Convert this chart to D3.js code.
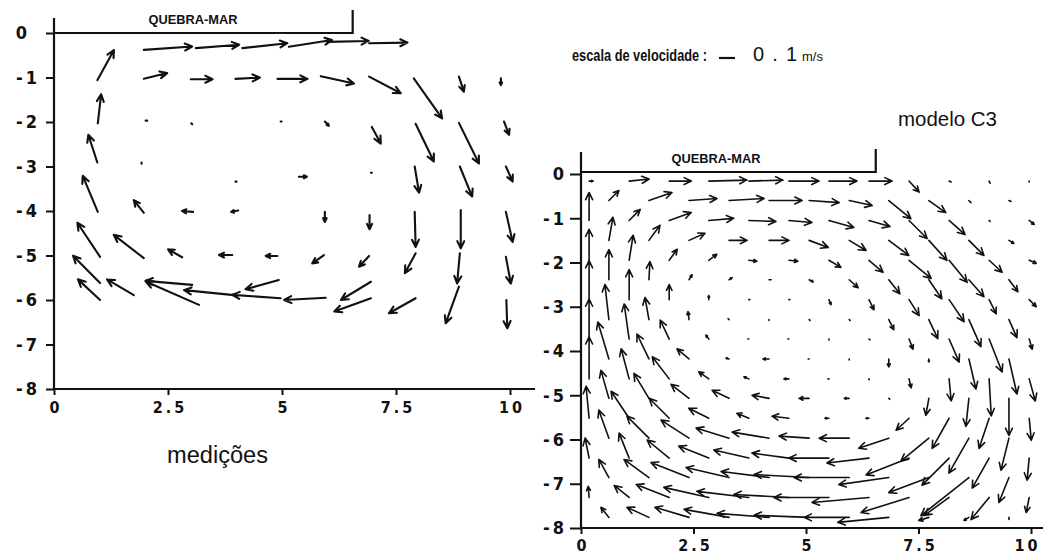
<!DOCTYPE html>
<html>
<head>
<meta charset="utf-8">
<script src="https://cdn.jsdelivr.net/npm/d3@7"></script>
<style>
  body { margin: 0; background: #fff; }
  svg { display: block; }
  .axis .tick text {
    font-family: "Liberation Sans Narrow", "DejaVu Sans Condensed", sans-serif;
    font-weight: bold; font-size: 18px; letter-spacing: 3px; fill: #111;
  }
  .x.axis .tick text { font-size: 16px; }
  .axis .tick line { stroke: #111; stroke-width: 2; }
  .axisLine { stroke: #111; stroke-width: 2.2; fill: none; }
  .arrow { fill: none; stroke: #111; stroke-linecap: round; stroke-linejoin: round; }
  .label { font-family: "Liberation Sans", Arial, sans-serif; fill: #111; }
</style>
</head>
<body>
<div id="chart"></div>
<script>
var width = 1043, height = 557

// eixos
var xTicks = [0, 2.5, 5, 7.5, 10]
var yTicks = [0, -1, -2, -3, -4, -5, -6, -7, -8]
var quebraMarFim = 6.55   // fim do quebra-mar (m)
var escalaVel = 0.1       // m/s

// medições: [x, y, u (m/s), v (m/s)]
var medicoes = [
  [0.95, -1.06, 0.104, 0.188], [0.96, -2.03, 0.021, 0.181], [0.95, -2.91, -0.056, 0.173],
  [0.96, -4.02, -0.094, 0.225], [1.01, -5.03, -0.142, 0.213], [1.01, -5.62, -0.169, 0.171],
  [1.01, -6.0, -0.138, 0.129],
  [1.97, -0.38, 0.302, 0.021], [1.97, -1.03, 0.146, 0.036], [2.01, -1.97, 0.01, 0],
  [1.92, -2.91, 0, -0.008], [1.97, -4.04, -0.063, 0.079], [1.97, -5.06, -0.188, 0.146],
  [1.75, -5.89, -0.167, 0.098],
  [3.11, -0.34, 0.271, 0.021], [3.0, -1.04, 0.136, 0], [3.01, -2.03, 0.006, -0.006],
  [3.05, -4.02, -0.069, 0.006], [2.81, -5.04, -0.088, 0.05], [3.03, -5.66, -0.292, 0.025],
  [3.18, -6.11, -0.333, 0.146],
  [4.13, -0.34, 0.281, 0.031], [3.98, -1.03, 0.152, 0.008], [3.98, -3.34, 0.006, 0],
  [4.04, -3.99, -0.044, -0.008], [3.91, -4.99, -0.083, 0], [3.95, -5.89, -0.313, 0.031],
  [5.15, -0.31, 0.27, 0.042], [4.9, -1.03, 0.188, 0], [4.97, -1.99, 0.006, 0],
  [5.37, -3.23, 0.05, 0], [4.9, -5.01, -0.073, 0], [4.93, -5.55, -0.208, -0.058],
  [4.97, -5.96, -0.302, 0.021],
  [5.99, -0.2, 0.26, 0.006], [5.85, -0.97, 0.208, -0.046], [5.94, -1.99, 0.025, -0.027],
  [5.94, -4.02, 0, -0.063], [5.92, -4.99, -0.073, -0.052], [5.96, -5.95, -0.26, -0.014],
  [6.91, -0.23, 0.24, 0.004], [6.91, -0.98, 0.198, -0.104], [6.97, -2.11, 0.056, -0.104],
  [6.95, -3.14, 0.006, 0], [6.92, -4.09, 0, -0.089], [6.91, -5.01, -0.063, -0.067],
  [6.95, -5.59, -0.188, -0.114], [6.95, -5.96, -0.229, -0.083],
  [7.89, -1.02, 0.177, -0.25], [7.93, -2.04, 0.114, -0.236], [7.91, -3.0, 0.027, -0.163],
  [7.91, -4.02, 0.006, -0.219], [7.93, -4.95, -0.067, -0.125], [7.93, -5.96, -0.167, -0.094],
  [8.88, -0.98, 0.031, -0.094], [8.88, -2.02, 0.125, -0.254], [8.9, -3.0, 0.077, -0.188],
  [8.92, -3.98, 0, -0.239], [8.9, -4.95, -0.017, -0.188], [8.88, -5.7, -0.083, -0.229],
  [9.8, -1.02, 0, -0.042], [9.87, -1.99, 0.031, -0.083], [9.91, -3.0, 0.042, -0.094],
  [9.91, -4.02, 0.042, -0.188], [9.91, -5.03, 0.031, -0.167], [9.92, -6.0, 0.006, -0.177]
]

// modelo C3: grelha desfasada, a linha r usa as colunas r%2, r%2+2, ...
var modeloX = [0.18, 0.62, 1.07, 1.51, 1.96, 2.4, 2.84, 3.29, 3.73, 4.18, 4.62, 5.07,
               5.51, 5.96, 6.4, 6.84, 7.29, 7.73, 8.18, 8.62, 9.07, 9.51, 9.96]
var modeloY = [-0.16, -0.6, -1.05, -1.5, -1.95, -2.39, -2.84, -3.29, -3.73,
               -4.18, -4.63, -5.07, -5.52, -5.97, -6.42, -6.86, -7.31, -7.76]
var modeloUV = [
  [[0.025,0],[0.125,0.013],[0.138,0],[0.238,0.006],[0.213,0.006],[0.188,0],[0.175,0],[0.144,0],[0.063,-0.069],[0.013,-0.006],[0.006,-0.013],[0,-0.006]],
  [[0.063,0.063],[0.144,0.05],[0.175,0.013],[0.219,0.013],[0.206,0],[0.188,-0.013],[0.144,-0.031],[0.138,-0.113],[0.106,-0.075],[0.013,-0.013],[0.013,-0.006]],
  [[0,0.175],[0.069,0.069],[0.138,0.05],[0.156,0.013],[0.169,-0.006],[0.144,-0.013],[0.156,-0.044],[0.131,-0.038],[0.113,-0.113],[0.1,-0.088],[0.006,-0.006],[0.031,-0.025]],
  [[0.025,0.144],[0.069,0.094],[0.1,0.044],[0.113,0],[0.125,0],[0.119,-0.044],[0.106,-0.063],[0.125,-0.094],[0.113,-0.125],[0.094,-0.094],[0.031,-0.019]],
  [[0,0.194],[0.025,0.156],[0.05,0.069],[0.05,0.038],[0.05,-0.006],[0.056,-0.006],[0.075,-0.044],[0.088,-0.075],[0.138,-0.113],[0.113,-0.138],[0.081,-0.075],[0.044,-0.019]],
  [[0,0.188],[0.006,0.113],[0.019,0.031],[0.019,0.013],[0.013,0],[0.025,-0.013],[0.056,-0.05],[0.069,-0.088],[0.081,-0.119],[0.094,-0.106],[0.056,-0.075]],
  [[0,0.244],[0,0.188],[0,0.094],[0,0.025],[0.006,0],[0.006,0],[0.013,-0.031],[0.031,-0.063],[0.063,-0.1],[0.094,-0.138],[0.044,-0.088],[0.044,-0.044]],
  [[-0.025,0.219],[-0.025,0.138],[-0.006,0.05],[-0.006,0.006],[0,-0.006],[0.006,-0.006],[0.006,-0.006],[0.031,-0.063],[0.056,-0.119],[0.075,-0.169],[0.05,-0.113]],
  [[0,0.25],[-0.031,0.219],[-0.056,0.119],[-0.019,0.025],[-0.006,0],[-0.006,0],[0,-0.006],[0.006,-0.006],[0.025,-0.063],[0.063,-0.144],[0.081,-0.206],[0.019,-0.063]],
  [[-0.069,0.231],[-0.075,0.156],[-0.075,0.063],[-0.019,0.006],[-0.038,0],[-0.006,0],[0,-0.006],[0,-0.05],[0,-0.019],[0.044,-0.188],[0.05,-0.219]],
  [[0,0.263],[-0.05,0.188],[-0.106,0.138],[-0.063,0.044],[-0.031,0.013],[-0.031,0],[-0.006,0],[0,-0.006],[0.013,-0.056],[0.013,-0.138],[0.013,-0.231],[0.038,-0.138]],
  [[-0.05,0.175],[-0.094,0.156],[-0.113,0.088],[-0.106,0.05],[-0.106,0.019],[-0.063,0],[-0.031,0],[0.006,-0.006],[-0.019,-0.106],[-0.019,-0.175],[0,-0.231]],
  [[-0.019,0.2],[-0.113,0.169],[-0.125,0.125],[-0.125,0.063],[-0.075,0.031],[-0.106,0.013],[-0.025,0],[-0.019,0],[-0.081,-0.075],[-0.106,-0.188],[-0.063,-0.188],[0.013,-0.138]],
  [[-0.063,0.175],[-0.138,0.138],[-0.175,0.113],[-0.206,0.063],[-0.231,0.038],[-0.188,0.013],[-0.188,0],[-0.188,-0.063],[-0.175,-0.144],[-0.125,-0.219],[-0.05,-0.2]],
  [[-0.025,0.125],[-0.063,0.156],[-0.138,0.113],[-0.188,0.075],[-0.219,0.05],[-0.231,0.031],[-0.25,0],[-0.263,-0.031],[-0.269,-0.106],[-0.169,-0.169],[-0.106,-0.188],[-0.013,-0.138]],
  [[-0.063,0.113],[-0.156,0.113],[-0.238,0.094],[-0.269,0.063],[-0.3,0.038],[-0.344,0.019],[-0.344,0],[-0.313,-0.044],[-0.25,-0.094],[-0.3,-0.238],[-0.063,-0.156]],
  [[-0.006,0.069],[-0.094,0.075],[-0.206,0.081],[-0.281,0.063],[-0.325,0.038],[-0.344,0.019],[-0.344,0],[-0.356,-0.031],[-0.3,-0.094],[-0.156,-0.113],[-0.113,-0.138],[-0.019,-0.094]],
  [[-0.05,0.063],[-0.138,0.063],[-0.213,0.063],[-0.281,0.05],[-0.325,0.025],[-0.344,0.013],[-0.281,0],[-0.319,-0.031],[-0.063,-0.019],[-0.031,-0.019],[0,-0.013]]
]

var modelo = []
modeloUV.forEach(function(row, r) {
  row.forEach(function(uv, i) {
    modelo.push([modeloX[r % 2 + 2 * i], modeloY[r], uv[0], uv[1]])
  })
})

// Scales
var xL = d3.scaleLinear().domain([0, 10]).range([54, 510])
var yL = d3.scaleLinear().domain([0, -8]).range([33, 389])
var xR = d3.scaleLinear().domain([0, 10]).range([581, 1031])
var yR = d3.scaleLinear().domain([0, -8]).range([174, 528])
var vel = d3.scaleLinear().domain([0, escalaVel]).range([0, 16])

var svg = d3.select("#chart")
  .append("svg")
    .attr("width", width)
    .attr("height", height)

function arrowPath(d, x, y) {
  var x0 = x(d[0]), y0 = y(d[1])
  var dx = vel(d[2]), dy = -vel(d[3])
  var x1 = x0 + dx, y1 = y0 + dy
  var len = Math.sqrt(dx * dx + dy * dy)
  if (len < 3) return "M" + x0 + "," + y0 + "L" + x1 + "," + y1
  var h = Math.min(8, len * 0.42), a = Math.atan2(dy, dx), s = 0.45
  return "M" + x0 + "," + y0 + "L" + x1 + "," + y1 +
    "M" + (x1 - h * Math.cos(a - s)) + "," + (y1 - h * Math.sin(a - s)) +
    "L" + x1 + "," + y1 +
    "L" + (x1 - h * Math.cos(a + s)) + "," + (y1 - h * Math.sin(a + s))
}

function panel(x, y, o) {
  var g = svg.append("g")

  // y axis
  var ya = g.append("g")
      .classed("y axis", true)
      .attr("transform", "translate(" + x(0) + ",0)")
      .call(d3.axisLeft(y).tickValues(yTicks).tickSize(o.yTick).tickPadding(o.yPad)
        .tickFormat(function(d) { return String(d) }))
  ya.select(".domain").remove()
  ya.selectAll(".tick text").attr("dx", function(d) { return d === 0 ? o.zeroDx : 0 })

  // x axis
  var xa = g.append("g")
      .classed("x axis", true)
      .attr("transform", "translate(0," + y(-8) + ")")
      .call(d3.axisBottom(x).tickValues(xTicks).tickSize(6).tickPadding(o.xPad)
        .tickFormat(function(d) { return String(d) }))
  xa.select(".domain").remove()
  xa.selectAll(".tick text").attr("dx", function(d) { return d === 10 ? o.lastDx : 1.5 })

  g.append("line")
      .classed("axisLine", true)
      .attr("x1", x(0)).attr("x2", x(0))
      .attr("y1", o.yTop).attr("y2", y(-8))
  g.append("line")
      .classed("axisLine", true)
      .attr("x1", x(0)).attr("x2", o.xEnd)
      .attr("y1", y(-8)).attr("y2", y(-8))

  // quebra-mar
  g.append("path")
      .classed("axisLine", true)
      .attr("d", "M" + x(0) + "," + (y(0) - o.qOff) + "H" + x(quebraMarFim) + "V" + (y(0) - o.qOff - 23))
  g.append("text")
      .classed("label", true)
      .attr("x", o.qx).attr("y", y(0) - o.qOff - 9)
      .attr("text-anchor", "middle")
      .attr("font-weight", "bold")
      .attr("font-size", "13px")
      .attr("textLength", 89)
      .attr("lengthAdjust", "spacingAndGlyphs")
      .text("QUEBRA-MAR")

  g.append("g").selectAll("path")
      .data(o.data)
    .enter().append("path")
      .classed("arrow", true)
      .attr("stroke-width", o.sw)
      .attr("d", function(d) { return arrowPath(d, x, y) })
}

panel(xL, yL, { yTick: 8, yPad: 6, zeroDx: -10, xPad: 7, lastDx: 1.5, yTop: 18, xEnd: 535,
                qOff: 0, qx: 193, sw: 2.1, data: medicoes })
panel(xR, yR, { yTick: 11, yPad: 3, zeroDx: 0, xPad: 6, lastDx: -4, yTop: 152, xEnd: 1043,
                qOff: 2, qx: 716, sw: 1.6, data: modelo })

// titles
svg.append("text")
    .classed("label", true)
    .attr("x", 167).attr("y", 463)
    .attr("font-size", "23px")
    .attr("textLength", 101)
    .attr("lengthAdjust", "spacingAndGlyphs")
    .text("medições")

svg.append("text")
    .classed("label", true)
    .attr("x", 898).attr("y", 126)
    .attr("font-size", "21px")
    .attr("textLength", 99)
    .attr("lengthAdjust", "spacingAndGlyphs")
    .text("modelo C3")

// escala de velocidade
svg.append("text")
    .classed("label", true)
    .attr("x", 572).attr("y", 61)
    .attr("font-size", "17px")
    .attr("font-weight", "bold")
    .attr("textLength", 135)
    .attr("lengthAdjust", "spacingAndGlyphs")
    .text("escala de velocidade :")

svg.append("line")
    .attr("stroke", "#111")
    .attr("stroke-width", 2.2)
    .attr("x1", 719).attr("x2", 719 + vel(escalaVel))
    .attr("y1", 58).attr("y2", 58)

svg.append("text")
    .classed("label", true)
    .attr("x", 753).attr("y", 61)
    .attr("font-size", "20px")
    .attr("textLength", 44)
    .attr("lengthAdjust", "spacing")
    .text("0 . 1")

svg.append("text")
    .classed("label", true)
    .attr("x", 802).attr("y", 61)
    .attr("font-size", "13px")
    .text("m/s")
</script>
</body>
</html>
